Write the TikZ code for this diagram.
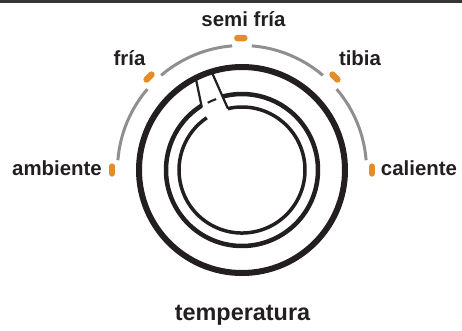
\documentclass[tikz,border=0pt]{standalone}
\usepackage{fontspec}
\setmainfont{Liberation Sans}
\usepackage{xcolor}
\definecolor{Ink}{RGB}{35, 31, 32}
\definecolor{Scale}{RGB}{143, 143, 143}
\definecolor{Marker}{RGB}{227, 140, 40}
\definecolor{Rule}{RGB}{55, 55, 55}
\tikzset{
    dialtext/.style={
        text=Ink, inner sep=0pt, anchor=base,
        font=\bfseries\fontsize{20.5}{22}\selectfont
    },
    titletext/.style={
        text=Ink, inner sep=0pt, anchor=base,
        font=\bfseries\fontsize{23.5}{26}\selectfont
    },
    tickmark/.style={
        line width=6.5bp, line cap=round, color=Marker
    },
    scalearc/.style={
        line width=3bp, color=Scale
    },
    bezel/.style={
        line width=6bp, color=Ink
    },
    knobring/.style={
        line width=4.5bp, color=Ink
    },
    innerring/.style={
        line width=3.5bp, color=Ink
    },
    slotline/.style={
        line width=2.2bp, color=Ink, line cap=round
    }
}

\begin{document}
\begin{tikzpicture}[x=1bp, y=1bp]

    \useasboundingbox (-242,-160) rectangle (220,170);

    % TOP RULE
    \fill[Rule] (-242,167) rectangle (220,170);

    % SCALE
    \draw[scalearc] (4.5:124.5) arc[start angle=4.5, end angle=40.5, radius=124.5];
    \draw[scalearc] (49.5:124.5) arc[start angle=49.5, end angle=85.5, radius=124.5];
    \draw[scalearc] (94.5:124.5) arc[start angle=94.5, end angle=130.5, radius=124.5];
    \draw[scalearc] (139.5:124.5) arc[start angle=139.5, end angle=175.5, radius=124.5];

    \draw[tickmark] (178.5:130) -- (181.5:130);
    \draw[tickmark] (133.5:131.5) -- (136.5:131.5);
    \draw[tickmark] (89:132) -- (92:132);
    \draw[tickmark] (43.5:131.5) -- (46.5:131.5);
    \draw[tickmark] (-1.5:130) -- (1.5:130);

    \node[dialtext] (ambiente) at (-185,-5) {ambiente};
    \node[dialtext] (fria) at (-112.5,105) {fría};
    \node[dialtext] (semifria) at (1.5,144) {semi fría};
    \node[dialtext] (tibia) at (118,105) {tibia};
    \node[dialtext] (caliente) at (177,-5) {caliente};

    % DIAL
    \draw[bezel] (0,0) circle[radius=103];
    \draw[knobring] (122.5:76) arc[start angle=122.5, end angle=464.4, radius=76];
    \draw[innerring] (103:63) arc[start angle=103, end angle=-236, radius=63];
    \draw[slotline] (117:101) -- (122.5:75);
    \draw[slotline] (107:100) -- (103:63.5);
    \draw[line width=2bp, color=Ink] (110:75.5) arc[start angle=110, end angle=117, radius=75.5];

    \node[titletext] (temperatura) at (0.5,-150) {temperatura};

\end{tikzpicture}
\end{document}
